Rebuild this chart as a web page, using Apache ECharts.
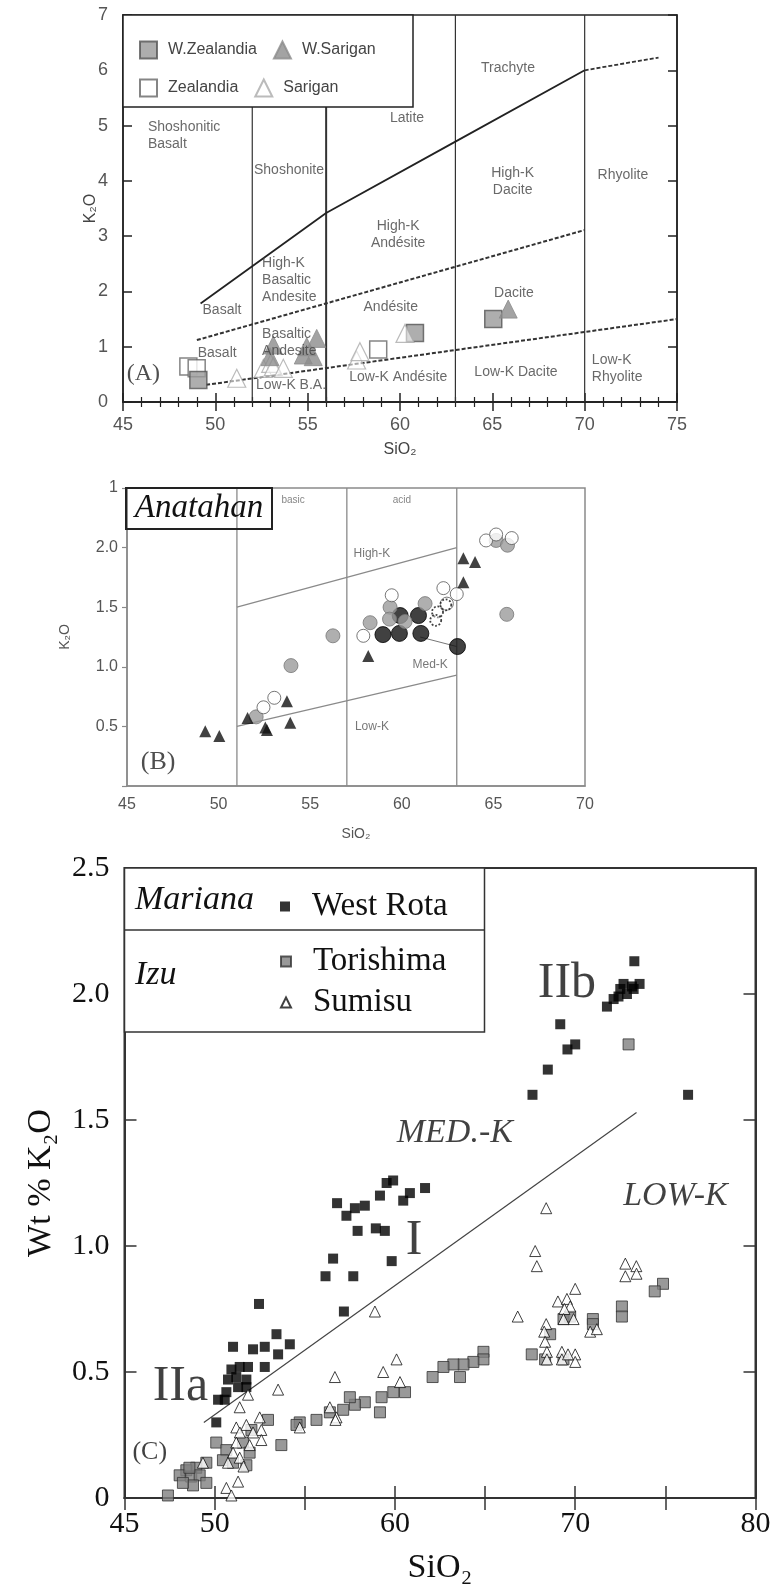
<!DOCTYPE html>
<html><head><meta charset="utf-8">
<script src="https://cdn.jsdelivr.net/npm/echarts@6/dist/echarts.min.js"></script>
<style>html,body{margin:0;padding:0;background:#fff}#c{width:780px;height:1587px}</style>
</head><body><div id="c"></div><script>
// ---------- Panel A data ----------
const aWZealandia = [[49.08,0.40],[60.81,1.25],[65.05,1.50]];
const aZealandia  = [[48.54,0.64],[48.99,0.61],[58.82,0.95]];
const aWSarigan   = [[53.14,1.03],[52.96,0.82],[54.95,1.00],[55.49,1.15],[54.76,0.85],[55.30,0.82],[65.86,1.68]];
const aSarigan    = [[51.16,0.43],[52.60,0.61],[53.00,0.70],[53.14,0.64],[53.68,0.61],[57.65,0.76],[57.83,0.91],[60.27,1.24]];
const aDividers   = [52, 56, 63, 70];
const aUpper      = [[49.2,1.78],[56,3.42],[63,4.71],[70,6.0]];
const aUpperExt   = [[70,6.0],[74,6.23]];
const aMiddle     = [[49,1.12],[70,3.11]];
const aLower      = [[49.5,0.31],[75,1.5]];
const aZoneLabels = [[53.99,4.20,'Shoshonite'],[60.38,5.14,'Latite'],[65.85,6.04,'Trachyte'],
  [66.1,3.98,'High-K\nDacite'],[72.07,4.10,'Rhyolite'],[59.9,3.02,'High-K\nAndésite'],
  [50.36,1.66,'Basalt'],[59.5,1.72,'Andésite'],[66.17,1.97,'Dacite'],[50.1,0.89,'Basalt'],
  [54.1,0.31,'Low-K B.A.'],[59.9,0.45,'Low-K Andésite'],[66.28,0.54,'Low-K Dacite']];
const aZoneLabelsLeft = [[46.35,4.81,'Shoshonitic\nBasalt'],[52.53,2.20,'High-K\nBasaltic\nAndesite'],
  [52.53,1.07,'Basaltic\nAndesite'],[70.39,0.60,'Low-K\nRhyolite']];
const aPanelTag = [[45.2,0.52,'(A)']];

// ---------- Panel B data ----------
const bBlackTri  = [[49.27,0.46],[50.04,0.42],[51.58,0.57],[52.55,0.49],[52.64,0.47],[53.73,0.71],[53.91,0.53],[58.17,1.09],[63.36,1.91],[64.0,1.88],[63.36,1.71]];
const bBlackCirc = [[58.97,1.27],[59.87,1.28],[59.91,1.43],[60.91,1.43],[61.04,1.28],[63.04,1.17]];
const bGrayCirc  = [[52.05,0.58],[53.95,1.01],[56.24,1.26],[58.27,1.37],[59.36,1.50],[59.33,1.40],[60.18,1.38],[61.27,1.53],[65.15,2.06],[65.77,2.02],[65.73,1.44]];
const bOpenCirc  = [[52.45,0.66],[53.04,0.74],[57.9,1.26],[59.45,1.60],[62.27,1.66],[63.0,1.61],[62.46,1.53],[64.6,2.06],[65.15,2.11],[66.0,2.08]];
const bDotCirc   = [[61.95,1.46],[62.4,1.52],[61.85,1.39]];
const bDividers  = [51, 57, 63];
const bHighK     = [[51,1.5],[63,2.0]];
const bLowK      = [[51,0.5],[63,0.93]];
const bTie       = [[61.0,1.25],[63.0,1.17]];
const bLabelsSmall = [[54.07,2.40,'basic'],[60.0,2.40,'acid']];
const bLabels    = [[58.37,1.95,'High-K'],[61.55,1.02,'Med-K'],[58.37,0.495,'Low-K']];
const bPanelTag  = [[46.7,0.2,'(B)']];

// ---------- Panel C data ----------
const cWestRota = [[73.28,2.13],[73.57,2.04],[73.15,2.03],[72.68,2.04],[72.87,2.00],[72.4,1.99],[72.13,1.98],[71.76,1.95],[73.24,2.02],[72.5,2.02],
 [69.17,1.88],[70.0,1.80],[69.57,1.78],[68.48,1.70],[67.63,1.60],[76.26,1.60],
 [59.9,1.26],[59.54,1.25],[60.83,1.21],[61.67,1.23],[60.46,1.18],[59.17,1.20],[56.79,1.17],[57.78,1.15],[58.33,1.16],[57.31,1.12],[57.93,1.06],[58.94,1.07],[59.44,1.06],[59.82,0.94],[56.57,0.95],[56.15,0.88],[57.69,0.88],[52.46,0.77],[57.17,0.74],
 [51.02,0.60],[52.13,0.59],[52.78,0.60],[53.43,0.65],[54.17,0.61],[53.52,0.57],[52.78,0.52],
 [50.93,0.51],[51.39,0.52],[51.85,0.52],[50.74,0.47],[51.2,0.48],[51.76,0.47],[50.65,0.42],[50.19,0.39],[50.56,0.39],[51.76,0.44],[51.3,0.44],[50.09,0.30]];
const cTorishima = [[72.96,1.80],[74.87,0.85],[74.41,0.82],[72.59,0.76],[72.59,0.72],[70.98,0.71],[70.98,0.69],[69.35,0.71],[69.72,0.72],[68.61,0.65],[67.59,0.57],[68.33,0.55],[69.35,0.55],
 [64.91,0.58],[64.91,0.55],[64.35,0.54],[63.8,0.53],[63.24,0.53],[62.69,0.52],[62.09,0.48],[63.61,0.48],
 [60.56,0.42],[59.91,0.42],[59.26,0.40],[59.17,0.34],[58.33,0.38],[57.78,0.37],[57.13,0.35],[57.5,0.40],[56.39,0.34],[55.65,0.31],[54.72,0.30],[54.54,0.29],[53.7,0.21],[52.96,0.31],[52.04,0.27],[51.57,0.22],
 [50.09,0.22],[50.65,0.19],[51.94,0.18],[50.46,0.15],[51.76,0.13],[51.02,0.14],[49.54,0.14],[48.98,0.12],[48.43,0.11],[48.06,0.09],[48.7,0.085],[49.17,0.09],[48.8,0.05],[49.54,0.06],[48.24,0.06],[47.41,0.01],[48.6,0.12]];
const cSumisu = [[68.39,1.15],[67.78,0.98],[67.87,0.92],[72.78,0.93],[73.39,0.92],[72.78,0.88],[73.4,0.89],[70.0,0.83],[69.04,0.78],[69.54,0.79],[69.72,0.76],[69.4,0.75],[69.91,0.71],[69.35,0.71],[66.81,0.72],[68.39,0.69],[68.28,0.66],[68.33,0.62],[70.83,0.66],[71.2,0.67],[68.43,0.58],[68.43,0.55],[69.26,0.58],[69.26,0.55],[70.0,0.57],[70.0,0.54],[69.6,0.57],
 [58.89,0.74],[60.09,0.55],[59.35,0.50],[60.28,0.46],[56.67,0.48],[53.52,0.43],[56.39,0.36],[56.76,0.32],[56.7,0.31],[54.72,0.28],
 [51.85,0.41],[51.39,0.36],[52.5,0.32],[51.76,0.29],[51.2,0.28],[52.59,0.27],[52.13,0.26],[51.4,0.26],[52.59,0.23],[51.2,0.22],[51.94,0.21],[51.02,0.18],[51.39,0.16],[50.74,0.14],[49.35,0.14],[51.3,0.065],[50.65,0.04],[50.93,0.01],[51.6,0.125]];
const cDivide = [[49.4,0.30],[73.4,1.53]];
const cBigLabels = [[69.54,2.04,'IIb'],[61.06,1.02,'I'],[48.1,0.44,'IIa']];
const cItalicLabels = [[75.56,1.20,'LOW-K']];
const cItalicLeft = [[60.1,1.45,'MED.-K']];
const cPanelTag = [[46.4,0.18,'(C)']];

const SANS = "'Liberation Sans', Arial, sans-serif";
const SERIF = "'Liberation Serif', 'Times New Roman', serif";

function lineS(data, i, color, width, type){
  return {type:'line', xAxisIndex:i, yAxisIndex:i, data, symbol:'none', silent:true, z:1,
    lineStyle:{color, width, type: type||'solid'}, animation:false};
}
function textS(data, i, style, align){
  return {type:'scatter', xAxisIndex:i, yAxisIndex:i, symbolSize:0, silent:true, z:4,
    data: data.map(d=>({value:[d[0],d[1]], name:d[2]})),
    label:{show:true, position:'inside', formatter:'{b}', align: align||'center', verticalAlign:'middle', ...style}};
}
function scatS(name, data, i, symbol, size, itemStyle, z){
  return {type:'scatter', name, xAxisIndex:i, yAxisIndex:i, data, symbol, symbolSize:size, itemStyle, z: z||3, silent:true};
}

const series = [];
// Panel A
aDividers.forEach(x => series.push(lineS([[x,0],[x,7]], 0, '#333', x===56?2:1.2)));
series.push(lineS(aUpper, 0, '#222', 1.8));
series.push(lineS(aUpperExt, 0, '#333', 1.8, [4,2]));
series.push(lineS(aMiddle, 0, '#333', 2, [4,2]));
series.push(lineS(aLower, 0, '#333', 2, [4,2]));
series.push(textS(aZoneLabels, 0, {fontFamily:SANS, fontSize:14, color:'#444', lineHeight:17}));
series.push(textS(aZoneLabelsLeft, 0, {fontFamily:SANS, fontSize:14, color:'#444', lineHeight:17}, 'left'));
series.push(textS(aPanelTag, 0, {fontFamily:SERIF, fontSize:24, color:'#222'}, 'left'));
series.push(scatS('Zealandia', aZealandia, 0, 'rect', 17, {color:'#fff', borderColor:'#666', borderWidth:1.5}));
series.push(scatS('W.Zealandia', aWZealandia, 0, 'rect', 17, {color:'#9a9a9a', borderColor:'#555', borderWidth:1.5}));
series.push(scatS('Sarigan', aSarigan, 0, 'triangle', 18, {color:'rgba(255,255,255,0.7)', borderColor:'#aaa', borderWidth:1.2}));
series.push(scatS('W.Sarigan', aWSarigan, 0, 'triangle', 18, {color:'#8c8c8c', borderColor:'#8c8c8c', borderWidth:1}));
// Panel B
bDividers.forEach(x => series.push(lineS([[x,0],[x,2.5]], 1, '#8a8a8a', 1.3)));
series.push(lineS(bHighK, 1, '#8a8a8a', 1.2));
series.push(lineS(bLowK, 1, '#8a8a8a', 1.2));
series.push(lineS(bTie, 1, '#777', 1));
series.push(textS(bLabelsSmall, 1, {fontFamily:SANS, fontSize:10, color:'#666'}));
series.push(textS(bLabels, 1, {fontFamily:SANS, fontSize:12, color:'#555'}));
series.push(textS(bPanelTag, 1, {fontFamily:SERIF, fontSize:26, color:'#222'}));
series.push(scatS('black circles', bBlackCirc, 1, 'circle', 16, {color:'#111', borderColor:'#000', borderWidth:1}));
series.push(scatS('gray circles', bGrayCirc, 1, 'circle', 14, {color:'#9b9b9b', borderColor:'#777', borderWidth:1}));
series.push(scatS('open circles', bOpenCirc, 1, 'circle', 13, {color:'#fff', borderColor:'#555', borderWidth:1}));
series.push(scatS('dotted circles', bDotCirc, 1, 'circle', 11, {color:'rgba(255,255,255,0.5)', borderColor:'#111', borderWidth:1.8, borderType:'dotted'}));
series.push(scatS('triangles', bBlackTri, 1, 'triangle', 12, {color:'#111'}));
// Panel C
series.push(lineS(cDivide, 2, '#444', 1.2));
series.push(textS(cBigLabels, 2, {fontFamily:SERIF, fontSize:50, color:'#111'}));
series.push(textS(cItalicLabels, 2, {fontFamily:SERIF, fontStyle:'italic', fontSize:34, color:'#111'}));
series.push(textS(cItalicLeft, 2, {fontFamily:SERIF, fontStyle:'italic', fontSize:34, color:'#111'}, 'left'));
series.push(textS(cPanelTag, 2, {fontFamily:SERIF, fontSize:26, color:'#111'}));
series.push(scatS('West Rota', cWestRota, 2, 'rect', 10, {color:'#000'}));
series.push(scatS('Torishima', cTorishima, 2, 'rect', 11, {color:'#808080', borderColor:'#333', borderWidth:1}));
series.push(scatS('Sumisu', cSumisu, 2, 'triangle', 11, {color:'#fff', borderColor:'#111', borderWidth:1}));

const noSplit = {splitLine:{show:false}, minorSplitLine:{show:false}};
const nm = {nameLocation:'middle', nameMoveOverlap:false};
const xAxis = [
  {gridIndex:0, type:'value', min:45, max:75, interval:5, position:'bottom', ...noSplit, ...nm,
   axisLine:{lineStyle:{color:'#222', width:1.5}},
   axisTick:{inside:true, length:9, lineStyle:{color:'#222', width:1.5}},
   minorTick:{show:true, splitNumber:5, length:5, lineStyle:{color:'#222', width:1.2}},
   axisLabel:{fontFamily:SANS, fontSize:18, color:'#555', margin:14},
   name:'SiO₂', nameGap:40, nameTextStyle:{fontFamily:SANS, fontSize:16, color:'#444'}},
  {gridIndex:1, type:'value', min:45, max:70, interval:5, ...noSplit, ...nm,
   axisLine:{lineStyle:{color:'#8a8a8a', width:1.5}}, axisTick:{show:false},
   axisLabel:{fontFamily:SANS, fontSize:16, color:'#555', margin:11},
   name:'SiO₂', nameGap:41, nameTextStyle:{fontFamily:SANS, fontSize:14, color:'#555'}},
  {gridIndex:2, type:'value', min:45, max:80, interval:5, ...noSplit, ...nm,
   axisLine:{lineStyle:{color:'#333', width:2}},
   axisTick:{inside:true, length:12, lineStyle:{color:'#333', width:1.5}},
   axisLabel:{fontFamily:SERIF, fontSize:30, color:'#111', margin:11,
     formatter: v => (v===45 || v%10===0) ? String(v) : ''},
   name:'SiO₂', nameGap:53, nameTextStyle:{fontFamily:SERIF, fontSize:34, color:'#111'}},
  {gridIndex:0, type:'value', min:45, max:75, interval:5, position:'top', ...noSplit,
   axisLine:{lineStyle:{color:'#222', width:1.5}},
   axisTick:{inside:true, length:9, lineStyle:{color:'#222', width:1.5}},
   minorTick:{show:true, splitNumber:5, length:5, lineStyle:{color:'#222', width:1.2}},
   axisLabel:{show:false}},
  {gridIndex:2, type:'value', min:45, max:80, interval:5, position:'top', ...noSplit,
   axisLine:{lineStyle:{color:'#333', width:2}},
   axisTick:{inside:true, length:12, lineStyle:{color:'#333', width:1.5}}, axisLabel:{show:false}}
];
const yAxis = [
  {gridIndex:0, type:'value', min:0, max:7, interval:1, ...noSplit, ...nm,
   axisLine:{show:true, lineStyle:{color:'#222', width:1.5}},
   axisTick:{show:true, inside:true, length:9, lineStyle:{color:'#222', width:1.5}},
   axisLabel:{fontFamily:SANS, fontSize:18, color:'#555', margin:15},
   name:'K₂O', nameGap:24, nameTextStyle:{fontFamily:SANS, fontSize:16, color:'#444'}},
  {gridIndex:1, type:'value', min:0, max:2.5, interval:0.5, ...noSplit, ...nm,
   axisLine:{show:true, lineStyle:{color:'#8a8a8a', width:1.5}},
   axisTick:{show:true, inside:false, length:5, lineStyle:{color:'#8a8a8a', width:1.2}},
   axisLabel:{fontFamily:SANS, fontSize:16, color:'#555', margin:9,
     formatter: v => v===0 ? '' : (v===2.5 ? '1' : v.toFixed(1))},
   name:'K₂O', nameGap:55, nameTextStyle:{fontFamily:SANS, fontSize:14, color:'#555'}},
  {gridIndex:2, type:'value', min:0, max:2.5, interval:0.5, ...noSplit, ...nm,
   axisLine:{show:true, lineStyle:{color:'#333', width:2}},
   axisTick:{show:true, inside:true, length:12, lineStyle:{color:'#333', width:1.5}},
   axisLabel:{fontFamily:SERIF, fontSize:30, color:'#111', margin:15,
     formatter: v => v===0 ? '0' : v.toFixed(1)},
   name:'Wt % K₂O', nameGap:66, nameTextStyle:{fontFamily:SERIF, fontSize:34, color:'#111'}},
  {gridIndex:0, type:'value', min:0, max:7, interval:1, position:'right', ...noSplit,
   axisLine:{show:true, lineStyle:{color:'#222', width:1.5}},
   axisTick:{show:true, inside:true, length:9, lineStyle:{color:'#222', width:1.5}}, axisLabel:{show:false}},
  {gridIndex:2, type:'value', min:0, max:2.5, interval:0.5, position:'right', ...noSplit,
   axisLine:{show:true, lineStyle:{color:'#333', width:2}},
   axisTick:{show:true, inside:true, length:12, lineStyle:{color:'#333', width:1.5}}, axisLabel:{show:false}}
];

const legendA = {left:134, itemWidth:17, itemHeight:17, itemGap:16, selectedMode:false,
  textStyle:{fontFamily:SANS, fontSize:16, color:'#444', width:112, padding:[0,0,0,6]}};
const legendC = {left:275, itemWidth:10, itemHeight:10, selectedMode:false,
  textStyle:{fontFamily:SERIF, fontSize:33, color:'#111', lineHeight:33, padding:[0,0,0,17]}};

const option = {
  animation:false,
  backgroundColor:'#fff',
  grid:[
    {left:123, top:15, width:554, height:387, show:true, borderColor:'#222', borderWidth:1.5},
    {left:127, top:488, width:458, height:298, show:true, borderColor:'#8a8a8a', borderWidth:1.5},
    {left:124.5, top:868, width:631, height:630, show:true, borderColor:'#333', borderWidth:2}
  ],
  xAxis, yAxis,
  legend:[
    {...legendA, top:35.5, data:['W.Zealandia','W.Sarigan']},
    {...legendA, top:73.5, data:['Zealandia','Sarigan']},
    {...legendC, top:885, data:['West Rota']},
    {...legendC, top:940, orient:'vertical', itemGap:8, data:['Torishima','Sumisu']}
  ],
  graphic:[
    {type:'rect', z:3, shape:{x:123, y:15, width:290, height:92}, style:{fill:'#fff', stroke:'#222', lineWidth:1.5}},
    {type:'rect', z:5, shape:{x:126, y:488, width:146, height:41}, style:{fill:'none', stroke:'#222', lineWidth:2}},
    {type:'text', z:5, x:199, y:508, style:{text:'Anatahan', font:"italic 33px 'Liberation Serif'", fill:'#111', textAlign:'center', textVerticalAlign:'middle'}},
    {type:'rect', z:3, shape:{x:124.5, y:868, width:360, height:164}, style:{fill:'#fff', stroke:'#333', lineWidth:1.5}},
    {type:'line', z:3, shape:{x1:124.5, y1:930, x2:484.5, y2:930}, style:{stroke:'#333', lineWidth:1.5}},
    {type:'text', z:5, x:135, y:900, style:{text:'Mariana', font:"italic 34px 'Liberation Serif'", fill:'#111', textVerticalAlign:'middle'}},
    {type:'text', z:5, x:135, y:975, style:{text:'Izu', font:"italic 34px 'Liberation Serif'", fill:'#111', textVerticalAlign:'middle'}}
  ],
  series
};
const chart = echarts.init(document.getElementById('c'), null, {renderer:'canvas'});
chart.setOption(option);
</script></body></html>
